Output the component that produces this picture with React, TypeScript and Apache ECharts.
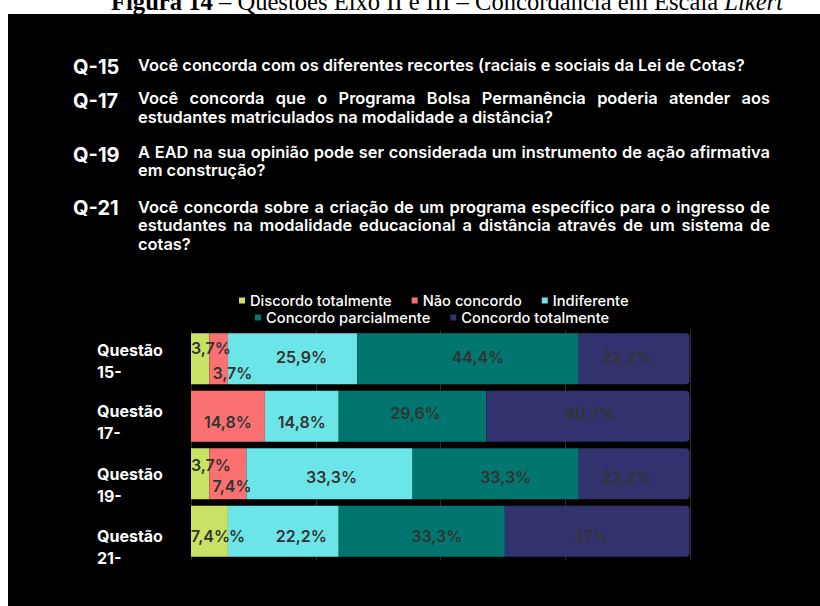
import React, { useEffect, useRef } from 'react';
import * as echarts from 'echarts';

// ---------- data ----------
const categories = ['Questão 15-', 'Questão 17-', 'Questão 19-', 'Questão 21-'];
const seriesNames = ['Discordo totalmente', 'Não concordo', 'Indiferente', 'Concordo parcialmente', 'Concordo totalmente'];
const discordoTotalmente = [3.7, 0, 3.7, 7.4];
const naoConcordo = [3.7, 14.8, 7.4, 0];
const indiferente = [25.9, 14.8, 33.3, 22.2];
const concordoParcialmente = [44.4, 29.6, 33.3, 33.3];
const concordoTotalmente = [22.2, 40.7, 22.2, 37];
const xTicks = [0, 25, 50, 75, 100];

const questionIds = ['Q-15', 'Q-17', 'Q-19', 'Q-21'];
const questionLines = [
  ['Você concorda com os diferentes recortes (raciais e sociais da Lei de Cotas?'],
  ['Você concorda que o Programa Bolsa Permanência poderia atender aos', 'estudantes matriculados na modalidade a distância?'],
  ['A EAD na sua opinião pode ser considerada um instrumento de ação afirmativa', 'em construção?'],
  [
    'Você concorda sobre a criação de um programa específico para o ingresso de',
    'estudantes na modalidade educacional a distância através de um sistema de',
    'cotas?',
  ],
];
const figureTitle = '{b|Figura 14} – Questões Eixo II e III – Concordância em Escala {i|Likert}';

// ---------- layout / style ----------
const colors = ['#c9e265', '#fb7171', '#6ce5e8', '#00766f', '#32336e'];
const FONT = 'Inter';
const qIdY = [67, 101, 155, 208];
const qLineY = [[65], [98, 117], [152, 170], [207, 225, 244]];
const Q_TEXT_X = 138;
const Q_TEXT_W = 632;
const Q_TEXT_FONT = `600 16.4px ${FONT}`;

// per-series, per-category label placement tweaks
const labelTweaks: any[][] = [
  [
    { position: 'insideLeft', distance: 0, offset: [0, -11] },
    { show: false },
    { position: 'insideLeft', distance: 0, offset: [0, -9] },
    { position: 'insideLeft', distance: 0, offset: [0, 5] },
  ],
  [
    { position: 'insideLeft', distance: 3, offset: [0, 14] },
    { offset: [0, 6] },
    { position: 'insideLeft', distance: 3, offset: [0, 12] },
    { position: 'insideLeft', distance: 1, offset: [0, 5] },
  ],
  [{ offset: [9, -2] }, { offset: [0, 6] }, { offset: [2, 3] }, { offset: [18, 5] }],
  [{ offset: [10, -2] }, { offset: [3, -3] }, { offset: [10, 3] }, { offset: [15, 5] }],
  [{ offset: [-7, -2] }, { offset: [2, -3] }, { offset: [-7, 3] }, { offset: [-6, 5] }],
];
// spacer heights pushing each two-line category label downward
const catSpacer = [4, 12, 22, 32];

const fmt = (v: number) => (v === 0 ? '%' : `${String(v).replace('.', ',')}%`);

let measureCtx: CanvasRenderingContext2D | null = null;
function measure(text: string, font: string) {
  if (!measureCtx) measureCtx = document.createElement('canvas').getContext('2d');
  measureCtx!.font = font;
  return measureCtx!.measureText(text).width;
}

function lineElements(text: string, y: number, justify: boolean) {
  const style = { fill: '#ffffff', font: Q_TEXT_FONT, lineHeight: 16, verticalAlign: 'middle', align: 'left' };
  if (!justify) {
    return [{ type: 'text', x: Q_TEXT_X, y, style: { ...style, text } }];
  }
  const words = text.split(' ');
  const widths = words.map((w) => measure(w, Q_TEXT_FONT));
  const total = widths.reduce((a, b) => a + b, 0);
  const gap = (Q_TEXT_W - total) / (words.length - 1);
  let x = Q_TEXT_X;
  return words.map((w, i) => {
    const el = { type: 'text', x, y, style: { ...style, text: w } };
    x += widths[i] + gap;
    return el;
  });
}

export default function App() {
  const ref = useRef<HTMLDivElement>(null);

  useEffect(() => {
    document.body.style.margin = '0';
    const chart = echarts.init(ref.current!, null, { renderer: 'svg' });
    const values = [discordoTotalmente, naoConcordo, indiferente, concordoParcialmente, concordoTotalmente];

    const graphics: any[] = [
      { type: 'rect', z: -10, shape: { x: 8, y: 14, width: 812, height: 592 }, style: { fill: '#000000' } },
      {
        type: 'text',
        x: 447,
        y: 1,
        style: {
          text: figureTitle,
          fill: '#000000',
          font: '24.6px "Liberation Serif"',
          align: 'center',
          verticalAlign: 'middle',
          rich: {
            b: { fontWeight: 'bold', fontSize: 24.6, fontFamily: 'Liberation Serif', fill: '#000' },
            i: { fontStyle: 'italic', fontSize: 24.6, fontFamily: 'Liberation Serif', fill: '#000' },
          },
        },
      },
    ];
    questionIds.forEach((id, i) => {
      graphics.push({
        type: 'text',
        x: 73,
        y: qIdY[i],
        style: { text: id, fill: '#ffffff', font: `bold 20px ${FONT}`, verticalAlign: 'middle' },
      });
      questionLines[i].forEach((ln, j) => {
        const justify = j < questionLines[i].length - 1;
        graphics.push(...lineElements(ln, qLineY[i][j], justify));
      });
    });

    const legendText = { color: '#ffffff', fontSize: 14.7, fontWeight: 500, fontFamily: FONT };
    const spacerRich: any = {};
    catSpacer.forEach((h, i) => {
      spacerRich[`s${i}`] = { height: h, lineHeight: h, fontSize: 1 };
    });

    chart.setOption({
      animation: false,
      backgroundColor: '#ffffff',
      color: colors,
      textStyle: { fontFamily: FONT },
      graphic: graphics,
      legend: [
        {
          data: seriesNames.slice(0, 3),
          left: 234,
          top: 288,
          icon: 'rect',
          itemWidth: 6,
          itemHeight: 6,
          itemGap: 20,
          textStyle: legendText,
        },
        {
          data: seriesNames.slice(3),
          left: 250,
          top: 305,
          icon: 'rect',
          itemWidth: 6,
          itemHeight: 6,
          itemGap: 20,
          textStyle: legendText,
        },
      ],
      grid: { left: 191, right: 130, top: 330, height: 230, containLabel: false },
      xAxis: {
        type: 'value',
        min: xTicks[0],
        max: xTicks[xTicks.length - 1],
        interval: xTicks[1] - xTicks[0],
        axisLabel: { show: false },
        axisLine: { show: false },
        axisTick: { show: false },
        splitLine: { show: true, lineStyle: { color: '#2c2c2c', width: 1 } },
      },
      yAxis: {
        type: 'category',
        inverse: true,
        data: categories,
        axisLine: { show: false },
        axisTick: { show: false },
        axisLabel: {
          interval: 0,
          color: '#ffffff',
          fontSize: 16,
          fontWeight: 'bold',
          fontFamily: FONT,
          align: 'left',
          margin: 94,
          lineHeight: 22,
          formatter: (v: string, i: number) => `{s${i}| }\n${v.replace(' ', '\n')}`,
          rich: spacerRich,
        },
      },
      series: seriesNames.map((name, s) => ({
        name,
        type: 'bar',
        stack: 'total',
        barCategoryGap: '11%',
        itemStyle: s === 4 ? { borderRadius: [0, 4, 4, 0] } : {},
        label: {
          show: true,
          position: 'inside',
          color: '#333333',
          fontSize: 16,
          fontWeight: 600,
          fontFamily: FONT,
          formatter: (p: any) => fmt(p.value),
        },
        data: values[s].map((v, c) => ({ value: v, label: labelTweaks[s][c] })),
      })),
    });

    return () => chart.dispose();
  }, []);

  return <div ref={ref} style={{ position: 'absolute', left: 0, top: 0, width: 820, height: 606 }} />;
}
